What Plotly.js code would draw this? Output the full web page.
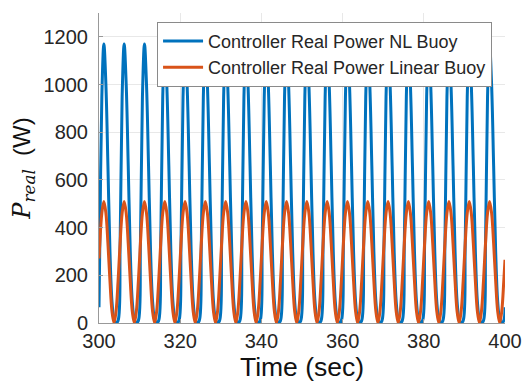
<!DOCTYPE html>
<html>
<head>
<meta charset="utf-8">
<script src="https://cdn.plot.ly/plotly-3.0.1.min.js"></script>
<style>html,body{margin:0;padding:0;background:#fff;}#chart{width:522px;height:390px;}</style>
</head>
<body>
<div id="chart"></div>
<script>
// Time samples (sec)
const timeSec = [300,
300.2,300.7,301.2,301.7,302.2,302.7,303.2,303.7,304.2,304.7,
305.2,305.7,306.2,306.7,307.2,307.7,308.2,308.7,309.2,309.7,
310.2,310.7,311.2,311.7,312.2,312.7,313.2,313.7,314.2,314.7,
315.2,315.7,316.2,316.7,317.2,317.7,318.2,318.7,319.2,319.7,
320.2,320.7,321.2,321.7,322.2,322.7,323.2,323.7,324.2,324.7,
325.2,325.7,326.2,326.7,327.2,327.7,328.2,328.7,329.2,329.7,
330.2,330.7,331.2,331.7,332.2,332.7,333.2,333.7,334.2,334.7,
335.2,335.7,336.2,336.7,337.2,337.7,338.2,338.7,339.2,339.7,
340.2,340.7,341.2,341.7,342.2,342.7,343.2,343.7,344.2,344.7,
345.2,345.7,346.2,346.7,347.2,347.7,348.2,348.7,349.2,349.7,
350.2,350.7,351.2,351.7,352.2,352.7,353.2,353.7,354.2,354.7,
355.2,355.7,356.2,356.7,357.2,357.7,358.2,358.7,359.2,359.7,
360.2,360.7,361.2,361.7,362.2,362.7,363.2,363.7,364.2,364.7,
365.2,365.7,366.2,366.7,367.2,367.7,368.2,368.7,369.2,369.7,
370.2,370.7,371.2,371.7,372.2,372.7,373.2,373.7,374.2,374.7,
375.2,375.7,376.2,376.7,377.2,377.7,378.2,378.7,379.2,379.7,
380.2,380.7,381.2,381.7,382.2,382.7,383.2,383.7,384.2,384.7,
385.2,385.7,386.2,386.7,387.2,387.7,388.2,388.7,389.2,389.7,
390.2,390.7,391.2,391.7,392.2,392.7,393.2,393.7,394.2,394.7,
395.2,395.7,396.2,396.7,397.2,397.7,398.2,398.7,399.2,399.7,
400];

// Controller Real Power NL Buoy (W)
const nlBuoyPower = [66,
330,950,1170,1000,660,300,90,15,0,10,
330,950,1170,1000,660,300,90,15,0,10,
330,950,1170,1000,660,300,90,15,0,10,
330,950,1170,1000,660,300,90,15,0,10,
330,950,1170,1000,660,300,90,15,0,10,
330,950,1170,1000,660,300,90,15,0,10,
330,950,1170,1000,660,300,90,15,0,10,
330,950,1170,1000,660,300,90,15,0,10,
330,950,1170,1000,660,300,90,15,0,10,
330,950,1170,1000,660,300,90,15,0,10,
330,950,1170,1000,660,300,90,15,0,10,
330,950,1170,1000,660,300,90,15,0,10,
330,950,1170,1000,660,300,90,15,0,10,
330,950,1170,1000,660,300,90,15,0,10,
330,950,1170,1000,660,300,90,15,0,10,
330,950,1170,1000,660,300,90,15,0,10,
330,950,1170,1000,660,300,90,15,0,10,
330,950,1170,1000,660,300,90,15,0,10,
330,950,1170,1000,660,300,90,15,0,10,
330,950,1170,1000,660,300,90,15,0,10,
66];

// Controller Real Power Linear Buoy (W)
const linBuoyPower = [271,
334,461,510,461,334,176,49,0,49,176,
334,461,510,461,334,176,49,0,49,176,
334,461,510,461,334,176,49,0,49,176,
334,461,510,461,334,176,49,0,49,176,
334,461,510,461,334,176,49,0,49,176,
334,461,510,461,334,176,49,0,49,176,
334,461,510,461,334,176,49,0,49,176,
334,461,510,461,334,176,49,0,49,176,
334,461,510,461,334,176,49,0,49,176,
334,461,510,461,334,176,49,0,49,176,
334,461,510,461,334,176,49,0,49,176,
334,461,510,461,334,176,49,0,49,176,
334,461,510,461,334,176,49,0,49,176,
334,461,510,461,334,176,49,0,49,176,
334,461,510,461,334,176,49,0,49,176,
334,461,510,461,334,176,49,0,49,176,
334,461,510,461,334,176,49,0,49,176,
334,461,510,461,334,176,49,0,49,176,
334,461,510,461,334,176,49,0,49,176,
334,461,510,461,334,176,49,0,49,176,
265];

const seriesNames = ["Controller Real Power NL Buoy", "Controller Real Power Linear Buoy"];
const xTicks = [300, 320, 340, 360, 380, 400];
const yTicks = [0, 200, 400, 600, 800, 1000, 1200];

const traces = [
  {x: timeSec, y: nlBuoyPower, name: seriesNames[0], type: 'scatter', mode: 'lines',
   line: {color: '#0072BD', width: 3, shape: 'spline', smoothing: 1}},
  {x: timeSec, y: linBuoyPower, name: seriesNames[1], type: 'scatter', mode: 'lines',
   line: {color: '#D95319', width: 3, shape: 'spline', smoothing: 1}}
];

const axisFont = {family: 'Liberation Sans, Arial, sans-serif', size: 20, color: '#262626'};

const layout = {
  width: 522, height: 390,
  margin: {l: 99, r: 17, t: 13, b: 67},
  paper_bgcolor: '#ffffff', plot_bgcolor: '#ffffff',
  showlegend: true,
  legend: {
    x: 0.143, y: 0.972, xanchor: 'left', yanchor: 'top',
    bgcolor: '#ffffff', bordercolor: '#8a8a8a', borderwidth: 1,
    font: {family: 'Liberation Sans, Arial, sans-serif', size: 18, color: '#262626'},
    itemwidth: 40, tracegroupgap: 0
  },
  xaxis: {
    range: [300, 400], tickvals: xTicks, ticktext: xTicks.map(String),
    showgrid: true, gridcolor: '#e8e8e8', gridwidth: 1,
    showline: true, linecolor: '#999999', linewidth: 1, mirror: false,
    ticks: 'inside', ticklen: 4, tickcolor: '#999999',
    zeroline: false, tickfont: axisFont,
    title: {text: 'Time (sec)', font: {family: 'Liberation Sans, Arial, sans-serif', size: 26.5, color: '#111111'}, standoff: 6}
  },
  yaxis: {
    range: [0, 1300], tickvals: yTicks, ticktext: yTicks.map(String),
    showgrid: true, gridcolor: '#e8e8e8', gridwidth: 1,
    showline: true, linecolor: '#999999', linewidth: 1, mirror: false,
    ticks: 'inside', ticklen: 4, tickcolor: '#999999',
    zeroline: false, tickfont: axisFont, ticklabelstandoff: 6,
    title: {text: '<span style="font-family:\'DejaVu Serif\',serif;font-style:italic">P<sub>real</sub></span>  (W)',
            font: {family: 'Liberation Sans, Arial, sans-serif', size: 24, color: '#111111'}, standoff: 6}
  }
};

Plotly.newPlot('chart', traces, layout, {displayModeBar: false, staticPlot: true});
</script>
</body>
</html>
